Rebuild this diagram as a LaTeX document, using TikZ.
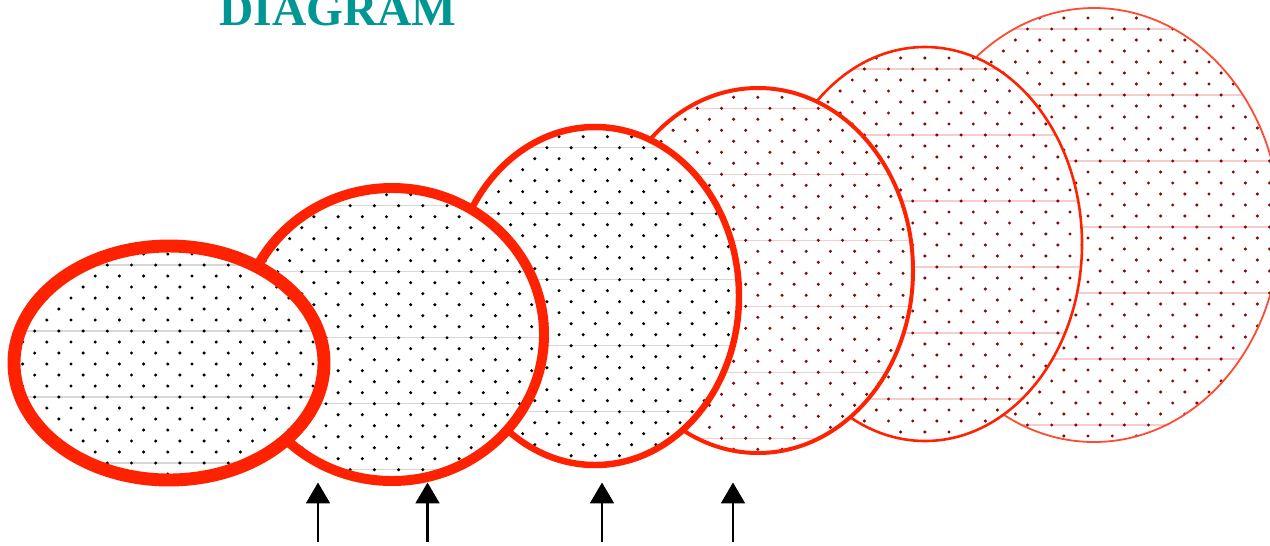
\documentclass[tikz,border=0pt]{standalone}
\usepackage{fontspec}
\setmainfont{Liberation Serif}
\usetikzlibrary{arrows.meta}
\definecolor{ored}{RGB}{255,34,0}
\definecolor{ored2}{RGB}{255,75,50}
\definecolor{dred}{RGB}{130,10,10}
\definecolor{glin}{RGB}{215,215,215}
\definecolor{plin}{RGB}{245,205,205}
\definecolor{titleteal}{RGB}{0,150,148}
\begin{document}
\begin{tikzpicture}[x=0.02cm,y=-0.02cm,
  arr/.style={line width=1.3pt,-{Triangle[length=11.9pt,width=13.6pt]}},
  gridline/.style={line width=0.6pt},
  titlestyle/.style={anchor=base west, inner sep=0pt, text=titleteal, font=\fontsize{27}{30}\selectfont\bfseries}]
\useasboundingbox (0,0) rectangle (1270,545);
\foreach \cx/\cy/\rx/\ry/\lw/\yo/\xo/\dc/\lc/\oc in {
 1094/225/186/217/1.8/29/1172.7/dred/plin/ored2,
 925/244/157/197/2.6/69/864.3/dred/plin/ored,
 758/270.5/155/182.5/4/108.3/697.3/dred/plin/ored,
 595/296/144/169/6.5/147.7/522.7/black/glin/ored,
 392/334.5/152/146.5/10/205.7/326/black/glin/ored,
 169/363/155/117/13/265/107.3/black/glin/ored}{
 \begin{scope}
  \fill[white] (\cx,\cy) ellipse [x radius=\rx, y radius=\ry];
  \clip (\cx,\cy) ellipse [x radius=\rx, y radius=\ry];
  \pgfmathtruncatemacro\kmin{floor((\cy-\ry-\yo)/11)-1}
  \pgfmathtruncatemacro\kmax{ceil((\cy+\ry-\yo)/11)+1}
  \pgfmathtruncatemacro\jmin{floor((\cx-\rx-\xo)/24.2)-1}
  \pgfmathtruncatemacro\jmax{ceil((\cx+\rx-\xo)/24.2)+1}
  \foreach \k in {\kmin,...,\kmax}{
    \pgfmathtruncatemacro\rp{mod(abs(\k),2)}
    \pgfmathtruncatemacro\rl{mod(abs(\k),6)}
    \pgfmathsetmacro\yy{\yo+11*\k}
    \ifnum\rl=0 \draw[\lc, gridline] ({\cx-\rx},\yy) -- ({\cx+\rx},\yy); \fi
    \foreach \j in {\jmin,...,\jmax}{
      \fill[\dc] ({\xo+24.2*\j+12.1*\rp},\yy) circle [radius=1.7];
    }
  }
 \end{scope}
 \draw[\oc, line width={\lw*0.5669pt}] (\cx,\cy) ellipse [x radius=\rx, y radius=\ry];
}
\node[titlestyle] (title) at (219,25) {DIAGRAM};
\foreach \n/\ax in {1/318,2/427.5,3/602,4/733}{
  \coordinate (b\n) at (\ax,541.5);
  \coordinate (t\n) at (\ax,482.5);
  \draw[arr] (b\n) -- (t\n);
}
\end{tikzpicture}
\end{document}
